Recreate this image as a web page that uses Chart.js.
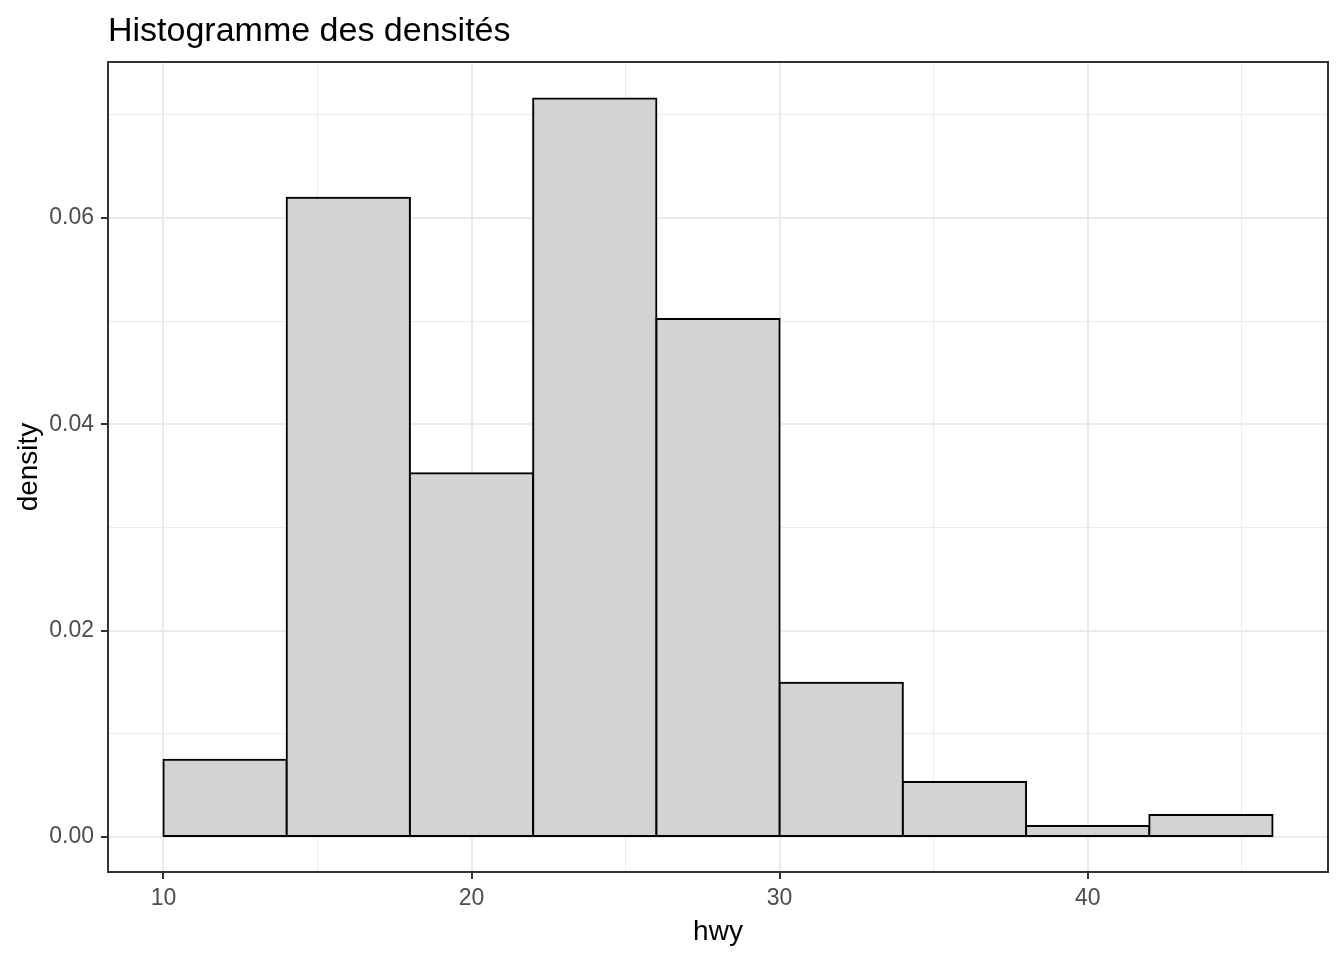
<!DOCTYPE html>
<html>
<head>
<meta charset="utf-8">
<script src="https://cdn.jsdelivr.net/npm/chart.js@4"></script>
<style>
  body { margin: 0; background: #ffffff; }
  #wrap { width: 1344px; height: 960px; }
</style>
</head>
<body>
<div id="wrap"><canvas id="histChart" width="1344" height="960"></canvas></div>
<script>
// Histogram data (hwy, bins of width 4)
const binCenters = [12, 16, 20, 24, 28, 32, 36, 40, 44];
const densities = [0.00748, 0.06197, 0.03526, 0.07158, 0.05021, 0.01496, 0.00534, 0.00107, 0.00214];
const xMajor = [10, 20, 30, 40];
const xMinor = [15, 25, 35, 45];
const yMajor = [0, 0.02, 0.04, 0.06];
const yMinor = [0.01, 0.03, 0.05, 0.07];
const chartTitle = 'Histogramme des densités';
const xTitle = 'hwy';
const yTitle = 'density';

const FONT = '"Liberation Sans", Arial, sans-serif';

const isMajor = (list, v) => list.some(m => Math.abs(m - v) < 1e-9);

// ggplot-like panel border + left-aligned title
const panelPlugin = {
    id: 'panel',
    afterDraw(chart) {
        const { ctx, chartArea: a } = chart;
        ctx.save();
        ctx.strokeStyle = '#333333';
        ctx.lineWidth = 2;
        ctx.strokeRect(a.left, a.top, a.right - a.left, a.bottom - a.top);
        ctx.fillStyle = '#000000';
        ctx.font = '34px ' + FONT;
        ctx.textBaseline = 'alphabetic';
        ctx.textAlign = 'left';
        ctx.fillText(chartTitle, a.left, 41);
        ctx.restore();
    }
};

const ctx = document.getElementById('histChart').getContext('2d');
new Chart(ctx, {
    type: 'bar',
    data: {
        datasets: [{
            data: binCenters.map((x, i) => ({ x: x, y: densities[i] })),
            backgroundColor: '#D3D3D3',
            borderColor: '#000000',
            borderWidth: 2,
            borderSkipped: false,
            inflateAmount: 1,
            barPercentage: 1,
            categoryPercentage: 1
        }]
    },
    options: {
        responsive: false,
        animation: false,
        layout: { padding: { top: 62, right: 16, bottom: 0, left: 0 } },
        plugins: {
            legend: { display: false },
            tooltip: { enabled: false }
        },
        scales: {
            x: {
                type: 'linear',
                min: 8.2,
                max: 47.8,
                offset: false,
                afterBuildTicks: s => { s.ticks = xMajor.concat(xMinor).sort((a, b) => a - b).map(v => ({ value: v })); },
                afterFit: s => { s.height = 88; },
                border: { display: false },
                grid: {
                    offset: false,
                    color: '#EBEBEB',
                    lineWidth: c => isMajor(xMajor, c.tick.value) ? 2 : 1,
                    drawTicks: true,
                    tickLength: 7,
                    tickColor: c => isMajor(xMajor, c.tick.value) ? '#333333' : 'rgba(0,0,0,0)',
                    tickWidth: 2
                },
                ticks: {
                    autoSkip: false,
                    maxRotation: 0,
                    padding: 6,
                    color: '#4D4D4D',
                    font: { family: FONT, size: 23 },
                    callback: v => isMajor(xMajor, v) ? String(v) : ''
                },
                title: {
                    display: true,
                    text: xTitle,
                    color: '#000000',
                    font: { family: FONT, size: 28 },
                    padding: { top: 0, bottom: 11 }
                }
            },
            y: {
                type: 'linear',
                min: -0.00339,
                max: 0.07512,
                afterBuildTicks: s => { s.ticks = yMajor.concat(yMinor).sort((a, b) => a - b).map(v => ({ value: v })); },
                afterFit: s => { s.width = 108; },
                border: { display: false },
                grid: {
                    color: '#EBEBEB',
                    lineWidth: c => isMajor(yMajor, c.tick.value) ? 2 : 1,
                    drawTicks: true,
                    tickLength: 7,
                    tickColor: c => isMajor(yMajor, c.tick.value) ? '#333333' : 'rgba(0,0,0,0)',
                    tickWidth: 2
                },
                ticks: {
                    autoSkip: false,
                    padding: 7,
                    color: '#4D4D4D',
                    font: { family: FONT, size: 23 },
                    callback: v => isMajor(yMajor, v) ? v.toFixed(2) : ''
                },
                title: {
                    display: true,
                    text: yTitle,
                    color: '#000000',
                    font: { family: FONT, size: 28 },
                    padding: { top: 12, bottom: 0 }
                }
            }
        }
    },
    plugins: [panelPlugin]
});
</script>
</body>
</html>
